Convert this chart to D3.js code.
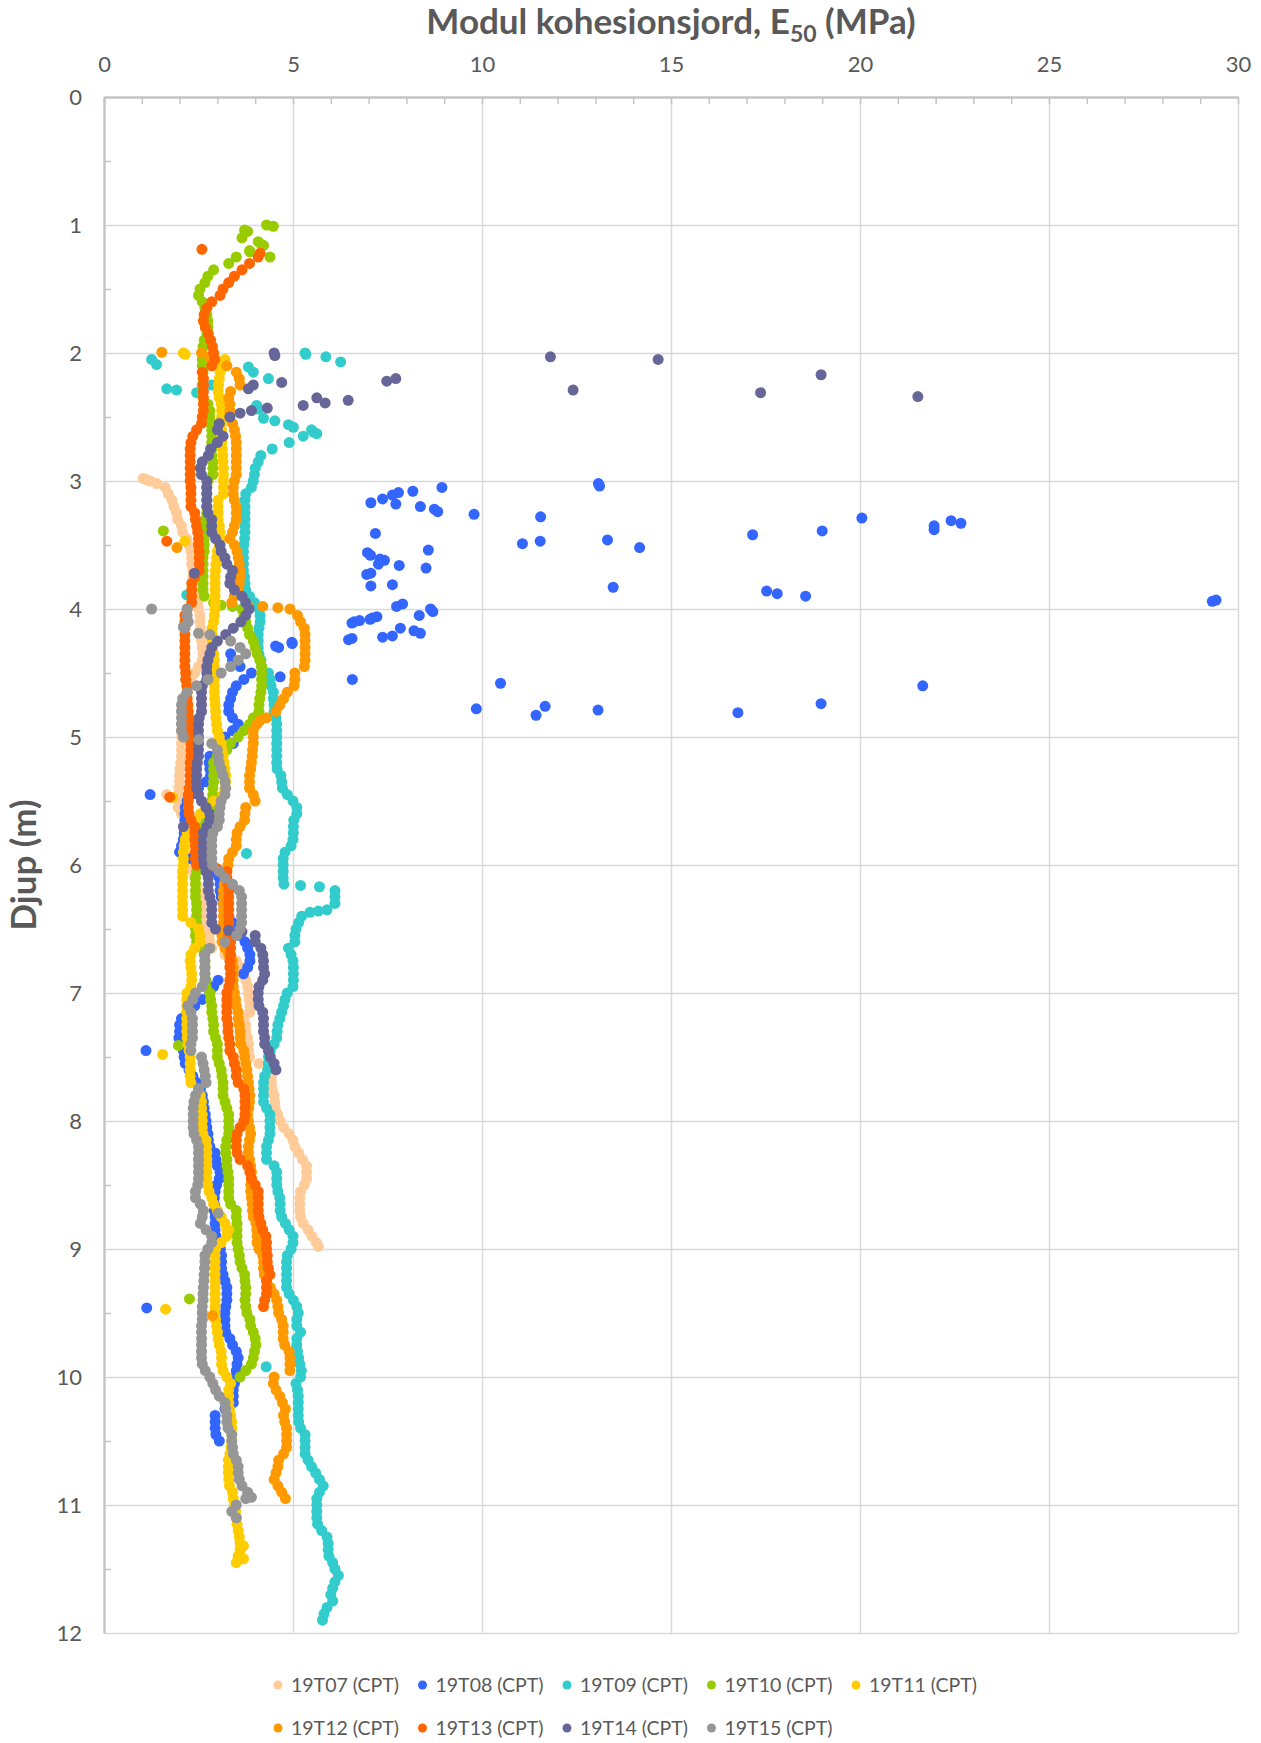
<!DOCTYPE html>
<html>
<head>
<meta charset="utf-8">
<script src="https://cdn.jsdelivr.net/npm/d3@7"></script>
<style>
  body { margin: 0; background: #fff; }
  text { font-family: Lato, "Open Sans", sans-serif; fill: #595959; }
</style>
</head>
<body>
<div id="chart"></div>
<script>
const seriesNames = ["19T07 (CPT)", "19T08 (CPT)", "19T09 (CPT)", "19T10 (CPT)", "19T11 (CPT)",
                     "19T12 (CPT)", "19T13 (CPT)", "19T14 (CPT)", "19T15 (CPT)"];
const seriesColors = ["#FFCC99", "#3366FF", "#33CCCC", "#99CC00", "#FFCC00",
                      "#FF9900", "#FF6600", "#666699", "#969696"];

const xTicks = [0, 5, 10, 15, 20, 25, 30];
const yTicks = [0, 1, 2, 3, 4, 5, 6, 7, 8, 9, 10, 11, 12];

// every profile is read at 0.05 m steps, starting at the depth given here
const depthStep = 0.05;
const profileTop = [3.00, 4.35, 2.70, 1.00, 2.05, 2.00, 1.25, 2.50, 4.00];

// E50 (MPa) down each profile
const e19T07 = [
  1.22,1.62,1.7,1.8,1.85,1.92,1.95,2.05,2.08,2.19,2.25,2.3,2.32,2.32,2.35,2.35,2.4,2.42,2.45,2.48,
  2.5,2.54,2.54,2.55,2.56,2.58,2.6,2.62,2.6,2.5,2.4,2.3,2.25,2.2,2.15,2.1,2.08,2.06,2.05,2.05,
  2.05,2.05,2.05,2.05,2.03,2.01,2.0,2.0,1.98,1.97,1.97,1.96,2.05,2.15,2.2,2.25,2.3,2.3,2.3,2.3,
  2.32,2.35,2.4,2.45,2.5,2.56,2.58,2.58,2.58,2.6,2.7,2.78,2.8,2.85,3.2,3.5,3.65,3.7,3.75,3.8,
  3.82,3.84,3.86,3.86,3.7,3.75,3.75,3.8,3.82,3.82,3.85,4.1,4.35,4.43,4.43,4.45,4.5,4.52,4.53,4.6,
  4.66,4.75,4.9,5.0,5.05,5.15,5.25,5.36,5.36,5.36,5.3,5.2,5.18,5.18,5.18,5.2,5.27,5.4,5.5,5.62];
const e19T08 = [
  3.35,3.4,3.6,3.9,3.7,3.5,3.4,3.35,3.3,3.3,3.4,3.55,3.4,
  3.2,3.42,3.1,2.8,2.78,2.8,2.82,2.7,2.5,2.3,2.2,2.15,2.14,2.14,2.14,2.12,2.1,2.05,2.0,2.3,
  2.6,2.9,3.05,3.07,3.07,3.1,3.15,3.2,3.3,3.4,3.5,3.6,3.73,3.8,3.86,3.86,3.8,3.69,3.02,2.9,
  2.8,2.6,2.4,2.2,2.05,2.0,2.0,1.98,2.05,2.1,2.12,2.15,2.25,2.35,2.45,2.55,2.6,2.63,2.65,2.68,
  2.7,2.72,2.75,2.76,2.8,2.94,2.96,3.0,3.07,3.05,2.98,2.94,2.92,2.92,2.92,2.94,2.94,2.94,2.96,3.0,
  3.08,3.11,3.11,3.11,3.15,3.2,3.25,3.25,3.25,3.22,3.2,3.2,3.2,3.22,3.33,3.4,3.5,3.55,3.52,3.5,
  3.48,3.45,3.42,3.42,3.42,3.2,2.94,2.94,2.94,2.96,3.05];
const e19T09 = [
  4.9,4.45,4.15,4.08,4.0,3.98,
  3.95,3.9,3.75,3.73,3.73,3.73,3.73,3.73,3.73,3.72,3.7,3.69,3.69,3.69,3.69,3.72,3.73,3.75,3.85,3.98,
  4.1,4.13,4.13,4.1,4.08,4.08,4.08,4.1,4.15,4.17,4.35,4.4,4.42,4.48,4.48,4.5,4.5,4.55,4.57,4.57,
  4.57,4.57,4.57,4.57,4.57,4.58,4.68,4.7,4.72,4.85,5.0,5.1,5.1,5.02,5.01,5.01,5.0,4.95,4.79,4.74,
  4.74,4.74,4.74,4.76,6.11,6.11,6.11,5.9,5.23,5.15,5.08,5.05,5.05,4.88,4.95,5.0,5.01,5.01,5.01,5.0,
  4.85,4.79,4.75,4.7,4.65,4.6,4.58,4.57,4.5,4.4,4.35,4.35,4.33,4.25,4.22,4.22,4.22,4.22,4.3,4.39,
  4.39,4.39,4.39,4.35,4.3,4.3,4.3,4.5,4.57,4.57,4.57,4.6,4.65,4.66,4.66,4.7,4.8,4.9,5.0,5.0,
  4.95,4.85,4.83,4.83,4.83,4.83,4.83,4.9,5.01,5.1,5.14,5.1,5.1,5.2,5.1,5.1,5.12,5.15,5.18,5.22,
  5.2,5.08,5.12,5.14,5.14,5.14,5.14,5.15,5.2,5.32,5.32,5.32,5.32,5.4,5.49,5.6,5.7,5.8,5.7,5.63,
  5.63,5.63,5.63,5.65,5.76,5.9,5.93,5.93,5.95,6.05,6.11,6.2,6.11,6.05,6.0,6.05,5.9,5.82,5.78];
const e19T10 = [
  4.3,3.8,3.65,4.15,3.85,3.5,3.3,2.9,2.75,2.67,2.54,2.5,2.6,2.67,2.72,2.75,2.75,2.72,2.65,2.62,
  2.6,2.6,2.6,2.62,2.62,2.6,2.6,2.62,2.75,2.8,2.8,2.82,2.85,2.85,2.85,2.85,2.85,2.88,2.88,2.88,
  2.75,2.72,2.72,2.72,2.72,2.72,2.68,2.65,2.65,2.65,2.65,2.65,2.62,2.62,2.62,2.62,2.62,2.62,2.65,2.9,
  3.65,3.7,3.75,3.8,3.85,3.95,4.0,4.05,4.12,4.17,4.17,4.17,4.17,4.15,4.12,4.1,4.1,3.95,3.85,3.7,
  3.55,3.35,3.25,3.0,2.9,2.9,2.9,2.9,2.88,2.88,2.85,2.85,2.85,2.7,2.6,2.55,2.5,2.5,2.48,2.45,
  2.45,2.45,2.42,2.42,2.42,2.42,2.45,2.45,2.45,2.45,2.42,2.42,2.45,2.6,2.65,2.67,2.67,2.67,2.7,2.7,
  2.8,2.82,2.85,2.85,2.88,2.9,2.9,2.95,3.0,3.0,3.0,3.05,3.1,3.12,3.15,3.15,3.15,3.2,3.25,3.3,
  3.3,3.3,3.3,3.25,3.22,3.22,3.25,3.25,3.28,3.3,3.3,3.3,3.3,3.35,3.5,3.5,3.52,3.52,3.52,3.52,
  3.55,3.58,3.6,3.65,3.72,3.73,3.75,3.75,3.73,3.75,3.78,3.86,3.88,3.95,4.0,4.02,3.98,3.95,3.9,3.75,3.6];
const e19T11 = [
  3.2,3.12,3.07,3.05,3.03,3.02,3.05,3.1,3.11,3.11,3.11,3.11,3.11,3.12,3.13,3.14,3.15,3.16,3.16,
  3.16,3.16,3.16,3.02,3.02,3.02,3.02,3.05,3.07,3.07,3.05,3.0,2.98,2.96,2.95,2.94,2.94,2.94,2.94,2.94,
  2.94,2.92,2.9,2.86,2.86,2.86,2.88,2.9,2.92,2.92,2.92,2.92,2.92,2.92,2.93,2.94,2.95,2.96,2.98,3.0,
  3.05,3.1,3.12,3.15,3.18,3.2,3.22,3.22,3.2,3.15,2.9,2.7,2.55,2.4,2.3,2.2,2.15,2.12,2.1,2.1,
  2.1,2.08,2.08,2.08,2.08,2.08,2.08,2.08,2.08,2.3,2.5,2.54,2.54,2.4,2.3,2.28,2.3,2.32,2.32,2.3,
  2.2,2.19,2.19,2.19,2.19,2.19,2.19,2.2,2.22,2.25,2.28,2.28,2.28,2.28,2.3,2.5,2.55,2.58,2.58,2.6,
  2.6,2.6,2.62,2.7,2.72,2.72,2.72,2.72,2.72,2.72,2.74,2.78,2.85,2.9,3.0,3.1,3.2,3.25,3.25,3.1,
  2.95,2.94,2.94,2.94,2.94,2.94,2.94,2.94,2.94,2.94,2.94,2.95,2.98,3.0,3.02,3.05,3.1,3.11,3.11,3.15,
  3.25,3.35,3.3,3.3,3.3,3.32,3.35,3.38,3.38,3.38,3.38,3.36,3.33,3.29,3.29,3.29,3.3,3.32,3.4,3.42,
  3.45,3.48,3.5,3.52,3.55,3.58,3.6,3.6,3.55,3.5];
const e19T12 = [
  2.58,2.85,3.25,3.5,3.58,3.6,3.35,3.3,3.33,3.33,3.33,3.4,3.45,3.48,3.5,3.5,3.5,3.5,3.5,3.5,
  3.45,3.42,3.42,3.45,3.5,3.5,3.5,3.45,3.4,3.33,3.45,3.52,3.55,3.58,3.6,3.6,3.58,3.55,3.45,3.38,
  4.92,5.12,5.2,5.3,5.32,5.32,5.32,5.32,5.32,5.3,5.05,5.05,5.03,4.85,4.75,4.65,4.55,4.3,4.05,3.95,
  3.95,3.95,3.93,3.92,3.9,3.88,3.85,3.85,3.85,3.95,4.0,3.75,3.73,3.72,3.6,3.52,3.5,3.5,3.4,3.3,
  3.28,3.25,3.2,3.18,3.16,3.16,3.16,3.16,3.16,3.16,3.14,3.12,3.12,3.2,3.3,3.4,3.42,3.42,3.42,3.42,
  3.45,3.48,3.5,3.55,3.55,3.58,3.6,3.6,3.62,3.7,3.72,3.75,3.78,3.8,3.82,3.84,3.86,3.85,3.83,3.8,
  3.82,3.85,3.88,3.85,3.82,3.82,3.85,3.88,3.9,3.9,3.88,3.88,3.9,3.92,3.93,3.95,4.02,4.04,4.05,4.05,
  4.1,4.2,4.22,4.22,4.24,4.3,4.4,4.5,4.57,4.6,4.62,4.7,4.74,4.74,4.74,4.78,4.9,4.92,4.92,4.92,
  4.5,4.48,4.55,4.65,4.72,4.8,4.75,4.78,4.83,4.83,4.83,4.83,4.75,4.62,4.6,4.55,4.5,4.6,4.7,4.8];
const e19T13 = [
  4.08,3.85,3.65,3.45,3.3,3.15,3.07,2.85,2.72,2.65,2.63,2.68,2.76,2.82,2.87,
  2.9,2.93,2.85,2.6,2.63,2.63,2.63,2.63,2.63,2.63,2.6,2.58,2.45,2.35,2.3,2.28,2.28,2.28,2.28,2.28,
  2.28,2.3,2.3,2.3,2.3,2.4,2.42,2.45,2.48,2.5,2.5,2.52,2.52,2.52,2.52,2.4,2.32,2.32,2.32,2.32,
  2.2,2.14,2.14,2.14,2.14,2.14,2.14,2.14,2.14,2.14,2.16,2.16,2.19,2.2,2.2,2.22,2.23,2.25,2.28,2.28,
  2.28,2.3,2.3,2.3,2.28,2.28,2.28,2.28,2.25,2.23,2.23,2.23,2.25,2.3,2.4,2.4,2.4,2.42,2.42,2.42,
  2.45,3.25,3.25,3.28,3.3,3.3,3.3,3.3,3.3,3.3,3.3,3.3,3.35,3.35,3.35,3.33,3.33,3.35,3.33,3.3,
  3.25,3.25,3.25,3.25,3.25,3.28,3.28,3.3,3.33,3.33,3.42,3.45,3.5,3.5,3.55,3.7,3.73,3.73,3.73,3.73,
  3.7,3.6,3.52,3.5,3.5,3.52,3.6,3.8,3.86,3.9,4.0,4.08,4.08,4.08,4.08,4.1,4.15,4.2,4.28,4.3,
  4.3,4.32,4.32,4.35,4.39,4.3,4.3,4.3,4.25,4.22];
const e19T14 = [
  3.33,3.05,3.0,3.15,3.0,2.82,2.76,2.6,2.55,2.58,
  2.72,2.72,2.72,2.72,2.72,2.75,2.85,2.85,2.85,2.95,3.07,3.1,3.2,3.25,3.4,3.35,3.33,3.45,3.65,3.75,
  3.84,3.75,3.62,3.42,3.22,3.0,2.85,2.8,2.75,2.72,2.72,2.72,2.6,2.58,2.58,2.58,2.58,2.52,2.5,2.5,
  2.5,2.5,2.5,2.5,2.47,2.45,2.45,2.45,2.45,2.5,2.58,2.7,2.8,2.8,2.72,2.63,2.63,2.63,2.63,2.63,
  2.65,2.7,2.76,2.76,2.76,2.8,2.85,2.85,2.85,2.85,2.95,4.0,4.0,4.15,4.2,4.22,4.22,4.25,4.2,4.1,
  4.08,4.08,4.1,4.2,4.22,4.22,4.22,4.25,4.25,4.35,4.4,4.5,4.55];
const e19T15 = [
  2.2,2.2,2.23,2.12,2.8,3.35,3.6,3.75,3.55,3.35,3.1,2.75,2.45,2.2,2.08,2.05,2.05,2.05,2.05,2.05,
  2.1,2.85,3.0,3.02,3.05,3.1,3.15,3.2,3.22,3.2,3.1,3.07,3.05,3.05,3.0,2.88,2.85,2.85,2.85,2.85,
  2.87,3.05,3.2,3.4,3.58,3.64,3.64,3.64,3.64,3.64,3.6,3.51,3.2,2.8,2.67,2.67,2.67,2.67,2.67,2.6,
  2.42,2.35,2.22,2.3,2.34,2.34,2.34,2.34,2.3,2.3,2.58,2.62,2.65,2.68,2.7,2.5,2.42,2.38,2.36,2.36,
  2.36,2.36,2.38,2.45,2.5,2.5,2.5,2.5,2.5,2.5,2.48,2.42,2.42,2.55,2.63,2.6,2.55,2.7,2.85,2.85,
  2.75,2.67,2.67,2.66,2.65,2.64,2.63,2.62,2.62,2.6,2.6,2.6,2.58,2.58,2.58,2.58,2.58,2.58,2.6,2.68,
  2.8,2.88,2.95,3.05,3.2,3.22,3.25,3.25,3.28,3.38,3.38,3.4,3.42,3.5,3.55,3.55,3.58,3.65,3.8,3.75,
  3.5,3.38,3.5];

// loose readings off the profiles: [depth (m), E50 (MPa)]
const x19T07 = [[2.98,1.04],[2.99,1.12],[3.02,1.4],[5.45,1.66],[8.98,5.67]];
const x19T08 = [[3.02,13.08],[3.04,13.11],[3.05,8.94],[3.08,8.17],[3.09,7.79],[3.11,7.63],[3.14,7.37],
  [3.17,7.06],[3.18,7.72],[3.2,8.37],[3.22,8.74],[3.24,8.83],[3.26,9.79],[3.28,11.55],[3.29,20.05],
  [3.31,22.41],[3.33,22.67],[3.35,21.96],[3.38,21.96],[3.39,19.0],[3.41,7.18],[3.42,17.16],[3.46,13.32],
  [3.47,11.54],[3.49,11.07],[3.52,14.17],[3.54,8.58],[3.56,6.97],[3.58,7.05],[3.61,7.3],[3.62,7.42],
  [3.65,7.26],[3.66,7.81],[3.68,8.52],[3.72,7.06],[3.73,6.95],[3.81,7.63],[3.82,7.06],[3.83,13.47],
  [3.86,17.53],[3.88,17.81],[3.9,18.56],[3.93,29.42],[3.94,29.32],[3.96,7.9],[3.98,7.74],[4.0,8.64],
  [4.02,8.7],[4.05,8.34],[4.06,7.22],[4.08,7.04],[4.07,7.1],[4.09,6.76],[4.1,6.62],[4.11,6.56],
  [4.15,7.84],[4.17,8.2],[4.19,8.37],[4.21,7.63],[4.22,7.37],[4.23,6.56],[4.24,6.47],[4.26,4.97],
  [4.27,4.98],[4.29,4.54],[4.3,4.62],[4.53,4.66],[4.55,6.57],[4.58,10.49],[4.6,21.66],[4.74,18.97],
  [4.76,11.67],[4.78,9.85],[4.79,13.07],[4.81,16.77],[4.83,11.43],[5.45,1.22],[7.45,1.11],[9.46,1.13]];
const x19T09 = [[2.05,1.26],[2.09,1.39],[2.28,1.66],[2.29,1.92],[2.31,2.45],[2.25,2.85],[2.11,3.82],
  [2.15,3.95],[2.2,4.35],[2.0,5.32],[2.01,5.34],[2.03,5.87],[2.07,6.26],[2.41,4.04],[2.44,4.1],
  [2.51,4.22],[2.53,4.52],[2.56,4.88],[2.58,5.01],[2.6,5.49],[2.62,5.55],[2.63,5.63],[2.65,5.27],
  [3.89,2.19],[5.91,3.77],[9.92,4.29],[6.16,5.2],[6.17,5.7],[6.36,5.67],[6.37,5.45]];
const x19T10 = [[1.01,4.48],[1.04,3.72],[1.13,4.08],[1.16,4.22],[1.21,3.86],[1.25,4.39],[3.97,3.1],
  [3.98,3.4],[3.39,1.57],[7.41,1.97],[9.39,2.26]];
const x19T11 = [[2.0,2.1],[2.01,2.15],[3.47,2.14],[5.47,1.82],[7.48,1.55],[9.47,1.63],[11.32,3.69],
  [11.42,3.69],[8.85,3.3]];
const x19T12 = [[1.995,1.53],[2.03,2.8],[3.52,1.93],[3.97,3.8],[3.98,4.2],[3.99,4.6],[4.87,4.13],[9.52,2.87]];
const x19T13 = [[1.19,2.59],[1.22,4.13],[3.47,1.66],[5.47,1.74],[6.02,2.75],[6.03,3.0]];
const x19T14 = [[2.0,4.5],[2.02,4.52],[2.03,11.81],[2.05,14.66],[2.17,18.97],[2.29,12.41],[2.31,17.37],
  [2.34,21.53],[2.22,7.48],[2.2,7.72],[2.23,4.7],[2.25,3.95],[2.28,3.82],[2.43,4.32],[2.45,3.9],
  [2.47,3.6],[2.41,5.27],[2.35,5.63],[2.39,5.85],[2.37,6.46],[3.72,2.39],[5.7,2.1],[6.51,3.3],[6.52,3.65]];
const x19T15 = [[4.0,1.26],[4.14,2.1],[4.19,2.5],[5.02,2.5],[8.72,3.02],[10.94,3.9]];

const profiles = [e19T07, e19T08, e19T09, e19T10, e19T11, e19T12, e19T13, e19T14, e19T15];
const loose = [x19T07, x19T08, x19T09, x19T10, x19T11, x19T12, x19T13, x19T14, x19T15];

const width = 1261, height = 1743;
const margin = { top: 97, right: 23, bottom: 110, left: 104 };

const svg = d3.select("#chart")
  .append("svg")
  .attr("width", width)
  .attr("height", height);

const x = d3.scaleLinear().domain([0, 30]).range([margin.left, width - margin.right]);
const y = d3.scaleLinear().domain([0, 12]).range([margin.top, height - margin.bottom]);

// grid
svg.append("g")
  .attr("transform", `translate(0,${margin.top})`)
  .call(d3.axisBottom(x).tickValues(xTicks.slice(1)).tickSize(y(12) - y(0)).tickFormat(""))
  .call(g => g.select(".domain").remove())
  .call(g => g.selectAll("line").attr("stroke", "#d9d9d9").attr("stroke-width", 1.5));
svg.append("g")
  .attr("transform", `translate(${margin.left},0)`)
  .call(d3.axisRight(y).tickValues(yTicks.slice(1)).tickSize(x(30) - x(0)).tickFormat(""))
  .call(g => g.select(".domain").remove())
  .call(g => g.selectAll("line").attr("stroke", "#d9d9d9").attr("stroke-width", 1.5));

// minor ticks and axis lines
svg.append("g")
  .attr("transform", `translate(0,${margin.top})`)
  .call(d3.axisBottom(x).tickValues(d3.range(0, 31, 1)).tickSize(7).tickFormat("").tickSizeOuter(0))
  .call(g => g.selectAll("line, path").attr("stroke", "#c4c4c4").attr("stroke-width", 1.5))
  .call(g => g.select(".domain").attr("stroke-width", 2.5));
svg.append("g")
  .attr("transform", `translate(${margin.left},0)`)
  .call(d3.axisRight(y).tickValues(d3.range(0.5, 12, 1)).tickSize(7).tickFormat("").tickSizeOuter(0))
  .call(g => g.selectAll("line, path").attr("stroke", "#c4c4c4").attr("stroke-width", 1.5))
  .call(g => g.select(".domain").attr("stroke-width", 2.5));

// tick labels
svg.append("g")
  .attr("transform", `translate(0,${margin.top - 32})`)
  .call(d3.axisTop(x).tickValues(xTicks).tickSize(0).tickPadding(0))
  .call(g => g.select(".domain").remove())
  .call(g => g.selectAll("text").style("font-size", "22px").attr("fill", "#595959")
    .attr("dy", "0.32em")
    .style("font-family", "Lato, 'Open Sans', sans-serif"));
svg.append("g")
  .attr("transform", `translate(${margin.left - 22},0)`)
  .call(d3.axisLeft(y).tickValues(yTicks).tickSize(0).tickPadding(0))
  .call(g => g.select(".domain").remove())
  .call(g => g.selectAll("text").style("font-size", "22px").attr("fill", "#595959")
    .style("font-family", "Lato, 'Open Sans', sans-serif"));

// titles
const title = svg.append("text")
  .attr("x", (x(0) + x(30)) / 2)
  .attr("y", 34)
  .attr("text-anchor", "middle")
  .style("font-size", "35px")
  .style("font-weight", "bold");
title.append("tspan").text("Modul kohesionsjord, E");
title.append("tspan").text("50").style("font-size", "23px").attr("dy", 8);
title.append("tspan").text(" (MPa)").attr("dy", -8);

svg.append("text")
  .attr("transform", `translate(36,${(y(0) + y(12)) / 2}) rotate(-90)`)
  .attr("text-anchor", "middle")
  .style("font-size", "35px")
  .style("font-weight", "bold")
  .text("Djup (m)");

// points
const plot = svg.append("g");
profiles.forEach((vals, s) => {
  const pts = vals.map((e, i) => [profileTop[s] + i * depthStep, e]).concat(loose[s]);
  plot.append("g")
    .attr("fill", seriesColors[s])
    .selectAll("circle")
    .data(pts)
    .join("circle")
      .attr("cx", d => x(d[1]))
      .attr("cy", d => y(d[0]))
      .attr("r", 5.5);
});

// legend
const legend = svg.append("g")
  .selectAll("g")
  .data(seriesNames)
  .join("g")
    .attr("transform", (d, i) => `translate(${278 + (i % 5) * 144.5},${i < 5 ? 1685 : 1728})`);
legend.append("circle")
  .attr("r", 4.5)
  .attr("fill", (d, i) => seriesColors[i]);
legend.append("text")
  .attr("x", 13)
  .attr("dy", "0.35em")
  .style("font-size", "19.5px")
  .text(d => d);
</script>
</body>
</html>
